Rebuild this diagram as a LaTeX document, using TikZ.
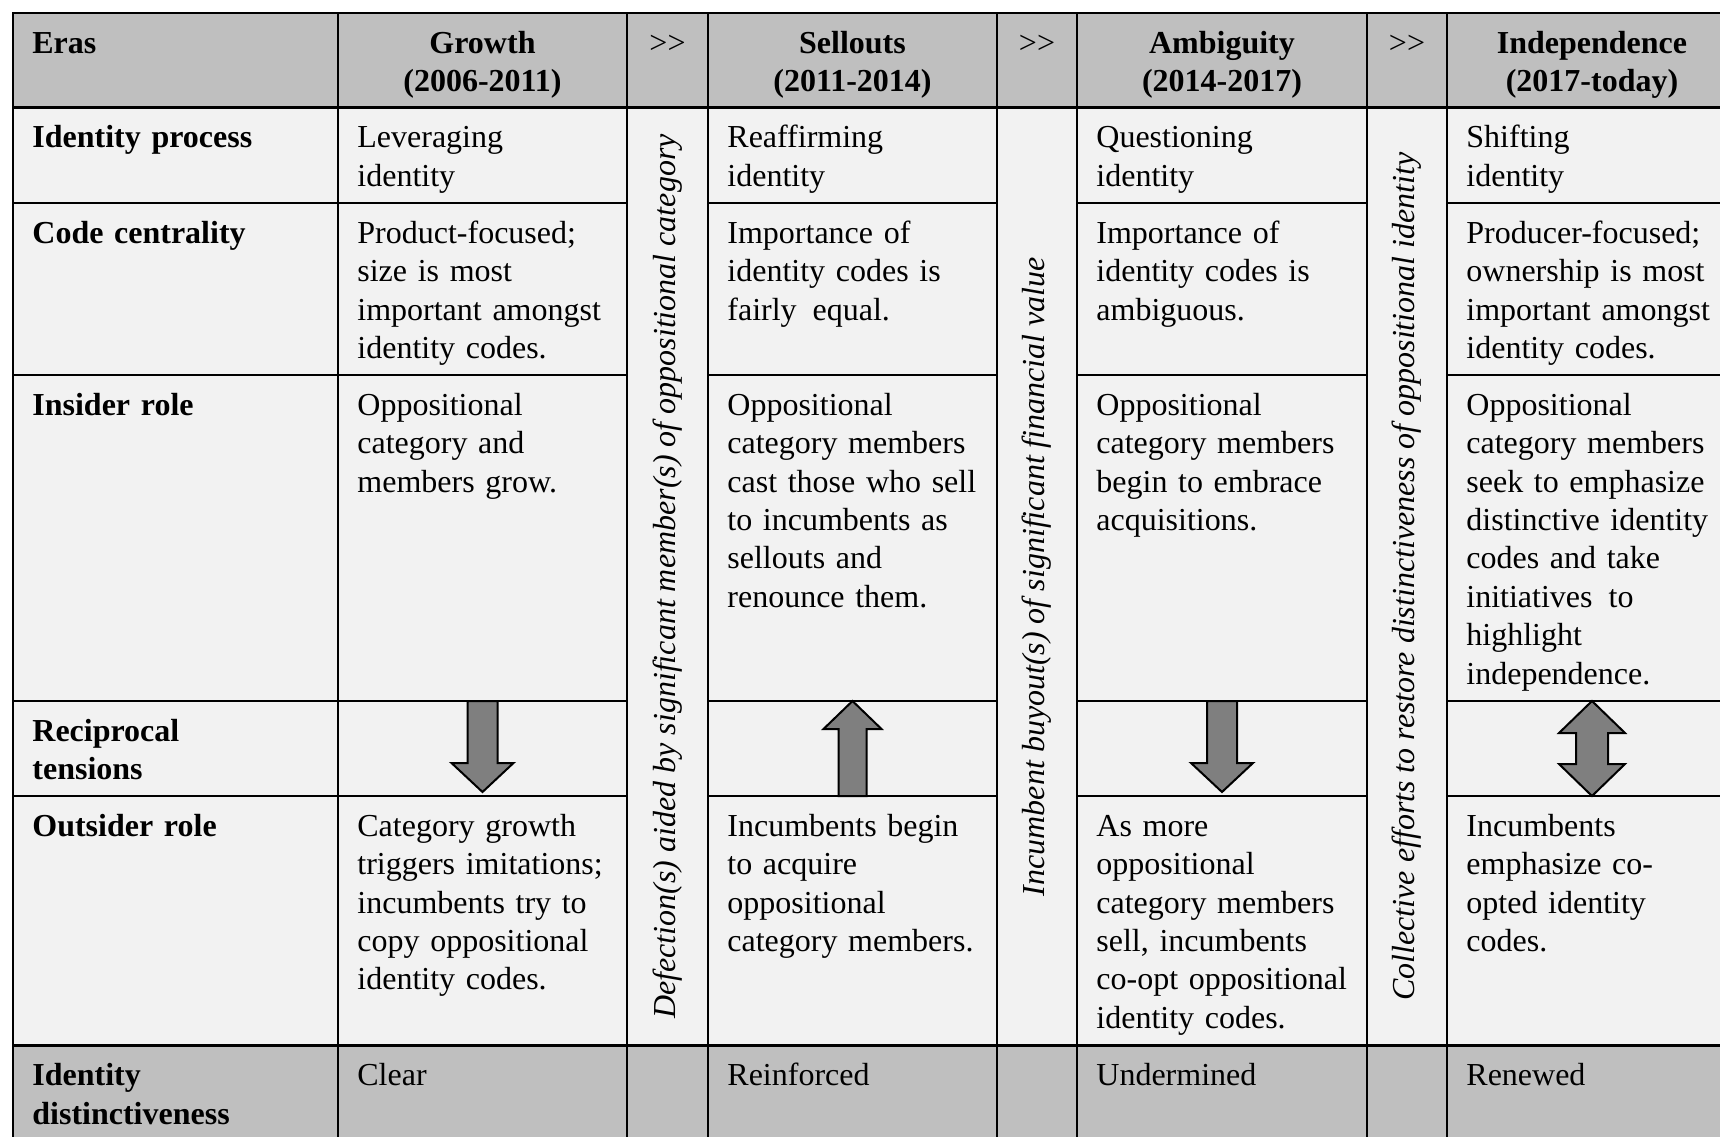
\documentclass[tikz,border=0pt]{standalone}
\usepackage{fontspec}
\setmainfont{Liberation Serif}
\usepackage{tikz}
\usetikzlibrary{calc}
\definecolor{headgray}{HTML}{BFBFBF}
\definecolor{bodygray}{HTML}{F2F2F2}
\definecolor{arrowgray}{HTML}{7F7F7F}
\newcommand{\cellfont}{\fontsize{16}{19.2}\selectfont}
\tikzstyle{cell}=[anchor=north west, inner sep=0pt, text width=135pt, align=left, font=\cellfont, execute at begin node=\strut]
\tikzstyle{rowhead}=[cell, font=\cellfont\bfseries]
\tikzstyle{erahead}=[cell, anchor=north, align=center, font=\cellfont\bfseries]
\tikzstyle{stepbox}=[cell, anchor=north, align=center]
\tikzstyle{vtext}=[rotate=90, inner sep=0pt, font=\cellfont\itshape]
\tikzstyle{rule}=[line width=1.2pt, line cap=rect]
\tikzstyle{bigarrow}=[draw, fill=arrowgray, line width=1pt, line join=miter]

\begin{document}
\begin{tikzpicture}[x=0.5pt, y=-0.5pt]
\useasboundingbox (0,0) rectangle (1720,1136);
\clip (0,0) rectangle (1720,1136);
% the cell backgrounds
\fill[headgray] (13,13) rectangle (1737,107.5);
\fill[bodygray] (13,107.5) rectangle (1737,1045.5);
\fill[headgray] (13,1045.5) rectangle (1737,1140);
% the rules
\foreach \x in {13,338,627,708,997,1077,1367,1447}
  \draw[rule] (\x,13) -- (\x,1140);
\foreach \y in {13,107.5,1045.5}
  \draw[rule] (13,\y) -- (1737,\y);
\foreach \y in {203,375,701,796} {
  \draw[rule] (13,\y) -- (627,\y);
  \draw[rule] (708,\y) -- (997,\y);
  \draw[rule] (1077,\y) -- (1367,\y);
  \draw[rule] (1447,\y) -- (1737,\y);
}
% the header row
\node[rowhead] (eras) at (32,26) {Eras};
\node[erahead] (growth) at (482.5,26) {Growth\\(2006-2011)};
\node[stepbox] (stepA) at (667.5,26) {{>}{>}};
\node[erahead] (sellouts) at (852.5,26) {Sellouts\\(2011-2014)};
\node[stepbox] (stepB) at (1037,26) {{>}{>}};
\node[erahead] (ambiguity) at (1222,26) {Ambiguity\\(2014-2017)};
\node[stepbox] (stepC) at (1407,26) {{>}{>}};
\node[erahead] (independence) at (1592,26) {Independence\\(2017-today)};
% the row labels
\node[rowhead] (process) at (32,120.5) {Identity process};
\node[rowhead] (centrality) at (32,216) {Code centrality};
\node[rowhead] (insider) at (32,388) {Insider role};
\node[rowhead] (tensions) at (32,714) {Reciprocal\\tensions};
\node[rowhead] (outsider) at (32,809) {Outsider role};
\node[rowhead] (distinct) at (32,1058.5) {Identity\\distinctiveness};
% the growth era
\node[cell] (growthProc) at (357,120.5) {Leveraging\\identity};
\node[cell] (growthCode) at (357,216) {Product-focused;\\size is most\\important amongst\\identity codes.};
\node[cell] (growthIn) at (357,388) {Oppositional\\category and\\members grow.};
\node[cell] (growthOut) at (357,809) {Category growth\\triggers imitations;\\incumbents try to\\copy oppositional\\identity codes.};
\node[cell] (growthDist) at (357,1058.5) {Clear};
% the sellouts era
\node[cell] (selloutsProc) at (727,120.5) {Reaffirming\\identity};
\node[cell] (selloutsCode) at (727,216) {Importance of\\identity codes is\\fairly\ \,equal.};
\node[cell] (selloutsIn) at (727,388) {Oppositional\\category members\\cast those who sell\\to incumbents as\\sellouts and\\renounce them.};
\node[cell] (selloutsOut) at (727,809) {Incumbents begin\\to acquire\\oppositional\\category members.};
\node[cell] (selloutsDist) at (727,1058.5) {Reinforced};
% the ambiguity era
\node[cell] (ambiguityProc) at (1096,120.5) {Questioning\\identity};
\node[cell] (ambiguityCode) at (1096,216) {Importance of\\identity codes is\\ambiguous.};
\node[cell] (ambiguityIn) at (1096,388) {Oppositional\\category members\\begin to embrace\\acquisitions.};
\node[cell] (ambiguityOut) at (1096,809) {As more\\oppositional\\category members\\sell, incumbents\\co-opt oppositional\\identity codes.};
\node[cell] (ambiguityDist) at (1096,1058.5) {Undermined};
% the independence era
\node[cell] (independenceProc) at (1466,120.5) {Shifting\\identity};
\node[cell] (independenceCode) at (1466,216) {Producer-focused;\\ownership is most\\important amongst\\identity codes.};
\node[cell] (independenceIn) at (1466,388) {Oppositional\\category members\\seek to emphasize\\distinctive identity\\codes and take\\initiatives\ \,to\\highlight\\independence.};
\node[cell] (independenceOut) at (1466,809) {Incumbents\\emphasize co-\\opted identity\\codes.};
\node[cell] (independenceDist) at (1466,1058.5) {Renewed};
% the transitions between eras
\node[vtext] (defection) at (667.5,576.5) {Defection(s) aided by significant member(s) of oppositional category};
\node[vtext] (buyout) at (1037,576.5) {Incumbent buyout(s) of significant financial value};
\node[vtext] (restore) at (1407,576.5) {Collective efforts to restore distinctiveness of oppositional identity};
% the reciprocal tensions
\draw[bigarrow] (467.5,701) -- (467.5,763) -- (451.5,763) -- (482.5,792) -- (513.5,763) -- (497.5,763) -- (497.5,701) -- cycle;
\draw[bigarrow] (852.5,701) -- (881.5,729) -- (866.5,729) -- (866.5,796) -- (838.5,796) -- (838.5,729) -- (823.5,729) -- cycle;
\draw[bigarrow] (1207,701) -- (1207,763) -- (1191,763) -- (1222,792) -- (1253,763) -- (1237,763) -- (1237,701) -- cycle;
\draw[bigarrow] (1592,701) -- (1625,733) -- (1608,733) -- (1608,764) -- (1625,764) -- (1592,796) -- (1559,764) -- (1576,764) -- (1576,733) -- (1559,733) -- cycle;
\end{tikzpicture}
\end{document}
